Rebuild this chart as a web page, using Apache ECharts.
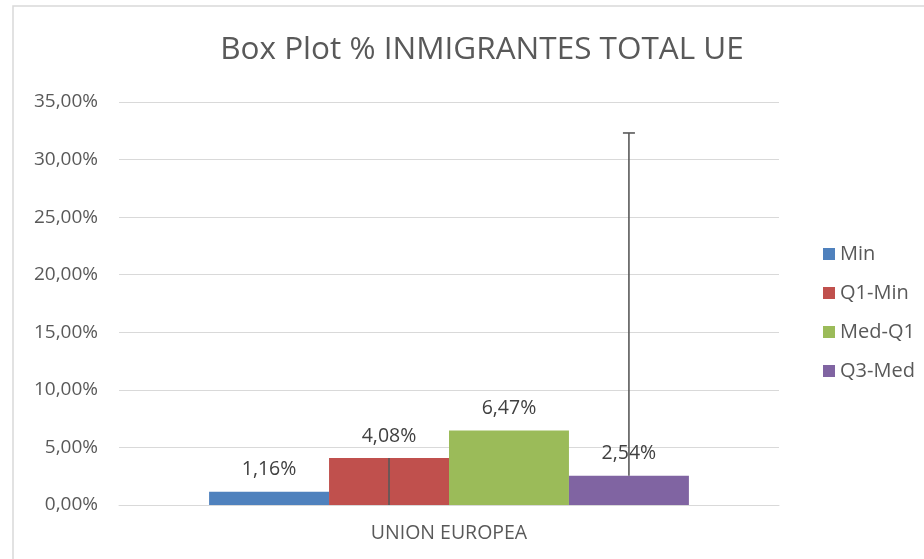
<!DOCTYPE html>
<html>
<head>
<meta charset="utf-8">
<script src="https://cdn.jsdelivr.net/npm/echarts@6/dist/echarts.min.js"></script>
<style>
  html, body { margin: 0; padding: 0; background: #ffffff; }
  #chart { width: 924px; height: 559px; }
</style>
</head>
<body>
<div id="chart"></div>
<script>
// Box plot built from stacked-difference series (values in %)
const categories = ['UNION EUROPEA'];
const seriesNames = ['Min', 'Q1-Min', 'Med-Q1', 'Q3-Med'];
const minValues = [1.16];
const q1MinValues = [4.08];
const medQ1Values = [6.47];
const q3MedValues = [2.54];
// whisker lengths: minus error on Q1-Min, plus error on Q3-Med
const lowerWhisker = [4.08];
const upperWhisker = [29.77];
const yTicks = { min: 0, max: 35, interval: 5 };

const colors = ['#4f81bd', '#c0504d', '#9bbb59', '#8064a2'];
const FONT = '"Open Sans", "Liberation Sans", sans-serif';
const gapPct = 27.3;

const fmt = v => v.toFixed(2).replace('.', ',') + '%';

const valueSets = [minValues, q1MinValues, medQ1Values, q3MedValues];

const barSeries = seriesNames.map((name, i) => ({
  name: name,
  type: 'bar',
  data: valueSets[i],
  barGap: '0%',
  barCategoryGap: gapPct + '%',
  itemStyle: { color: colors[i] },
  label: {
    show: true,
    position: 'top',
    distance: 12,
    formatter: p => fmt(p.value),
    color: '#404040',
    fontFamily: FONT,
    fontSize: 19.5
  },
  z: 2
}));

// error bar rows: [category, bar slot, from, to, cap]
const errorRows = [];
categories.forEach((c, ci) => {
  errorRows.push([ci, 1, q1MinValues[ci] - lowerWhisker[ci], q1MinValues[ci], 0]);
  errorRows.push([ci, 3, q3MedValues[ci], q3MedValues[ci] + upperWhisker[ci], 1]);
});

const errorSeries = {
  type: 'custom',
  name: 'whiskers',
  data: errorRows,
  encode: { x: 0, y: [2, 3] },
  z: 5,
  silent: true,
  renderItem: function (params, api) {
    const ci = api.value(0);
    const slot = api.value(1);
    const band = api.size([1, 0])[0];
    const barW = band * (1 - gapPct / 100) / seriesNames.length;
    const cx = api.coord([ci, 0])[0] + (slot - (seriesNames.length - 1) / 2) * barW;
    const y0 = api.coord([ci, api.value(2)])[1];
    const y1 = api.coord([ci, api.value(3)])[1];
    const style = { stroke: '#595959', lineWidth: 1.6 };
    const children = [{
      type: 'line',
      shape: { x1: cx, y1: y0, x2: cx, y2: y1 },
      style: style
    }];
    if (api.value(4)) {
      children.push({
        type: 'line',
        shape: { x1: cx - 6, y1: y1, x2: cx + 6, y2: y1 },
        style: style
      });
    }
    return { type: 'group', children: children };
  }
};

const chart = echarts.init(document.getElementById('chart'), null, { renderer: 'canvas' });
chart.setOption({
  backgroundColor: '#ffffff',
  animation: false,
  color: colors,
  title: {
    text: 'Box Plot % INMIGRANTES TOTAL UE',
    left: 477,
    top: 29,
    textAlign: 'center',
    textStyle: { color: '#595959', fontFamily: FONT, fontSize: 31.5, fontWeight: 'normal' }
  },
  legend: {
    data: seriesNames,
    orient: 'vertical',
    left: 818,
    top: 239,
    itemGap: 19,
    itemWidth: 12,
    itemHeight: 12,
    icon: 'rect',
    textStyle: { color: '#595959', fontFamily: FONT, fontSize: 20 }
  },
  grid: { left: 119, right: 145, top: 102, bottom: 54, containLabel: false },
  xAxis: {
    type: 'category',
    data: categories,
    axisLine: { lineStyle: { color: '#d9d9d9' } },
    axisTick: { show: false },
    axisLabel: { color: '#595959', fontFamily: FONT, fontSize: 19.5, margin: 18 }
  },
  yAxis: {
    type: 'value',
    min: yTicks.min,
    max: yTicks.max,
    interval: yTicks.interval,
    axisLine: { show: false },
    axisTick: { show: false },
    splitLine: { lineStyle: { color: '#d9d9d9', width: 1 } },
    axisLabel: { color: '#595959', fontFamily: FONT, fontSize: 19, margin: 21, formatter: v => fmt(v) }
  },
  graphic: [{
    type: 'rect',
    shape: { x: 13, y: 6, width: 920, height: 560 },
    style: { fill: 'none', stroke: '#d9d9d9', lineWidth: 1.5 },
    silent: true,
    z: -1
  }],
  series: barSeries.concat([errorSeries])
});
</script>
</body>
</html>
